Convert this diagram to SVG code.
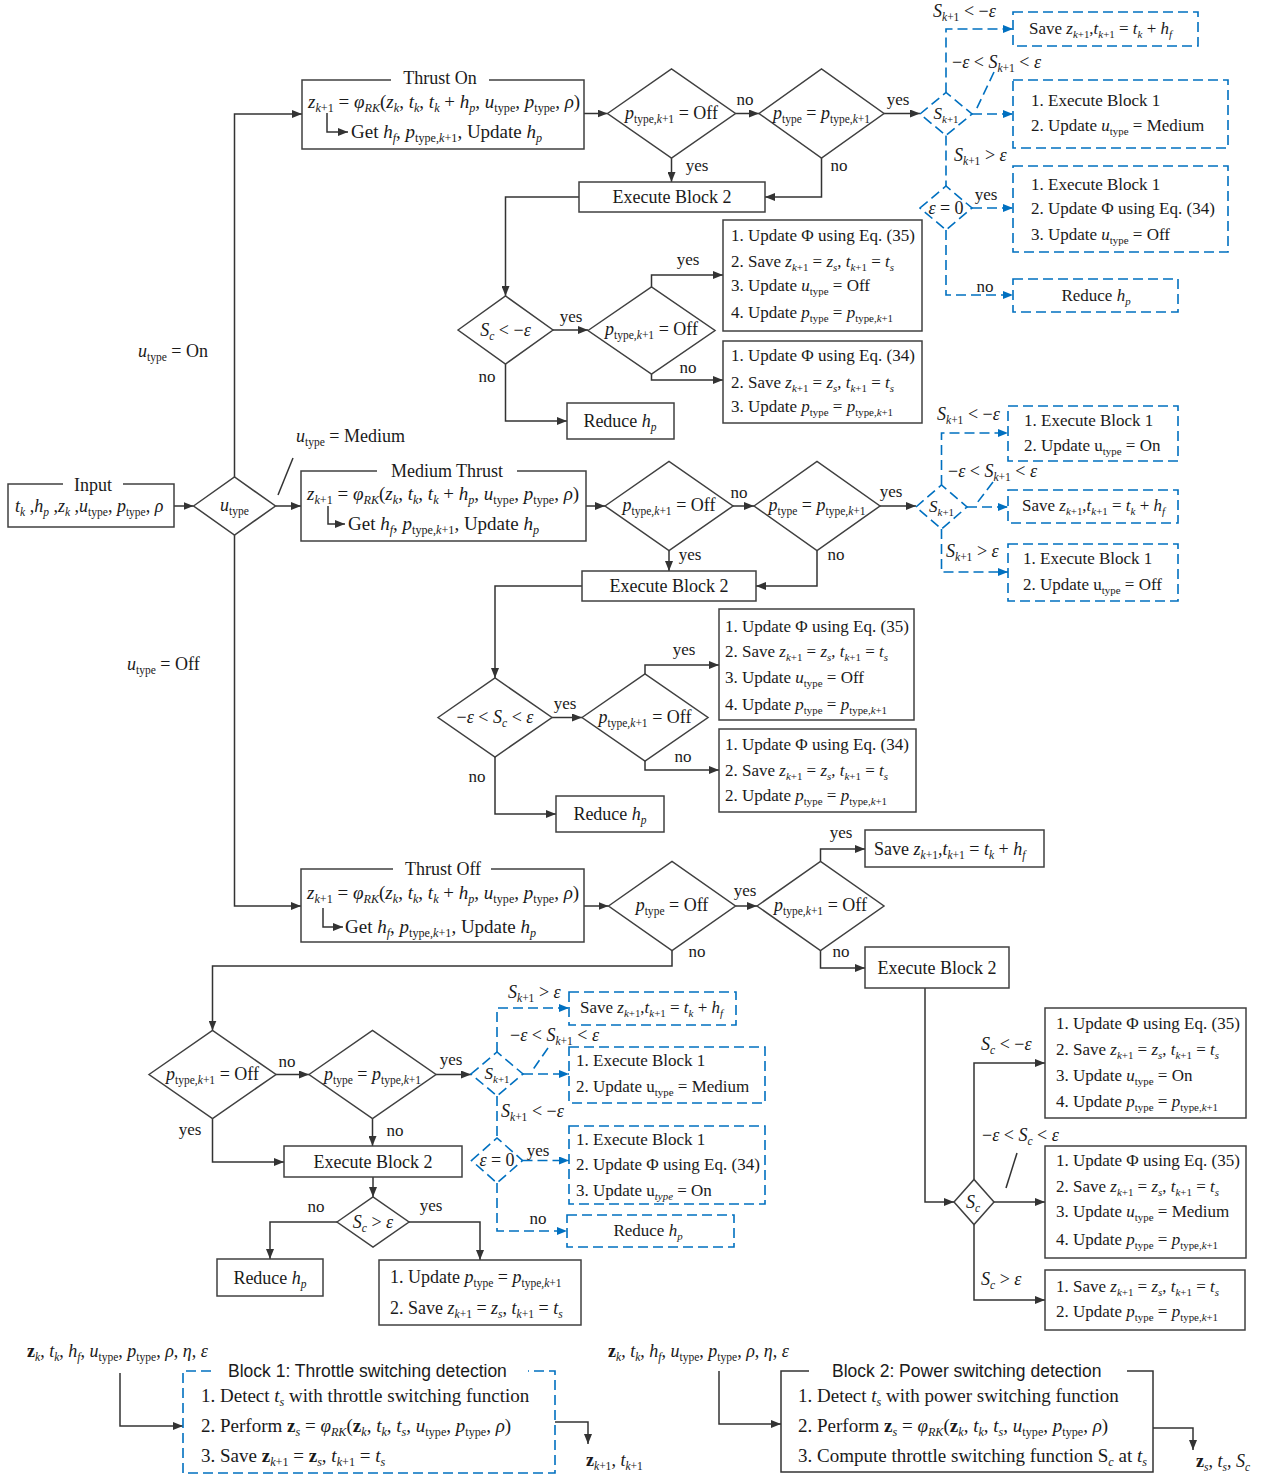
<svg xmlns="http://www.w3.org/2000/svg" width="1266" height="1476" viewBox="0 0 1266 1476">
<defs>
<marker id="ah" viewBox="0 0 10 8" refX="10" refY="4" markerWidth="10" markerHeight="8" markerUnits="userSpaceOnUse" orient="auto"><path d="M0,0 L10,4 L0,8 z" fill="#333"/></marker>
<marker id="ab" viewBox="0 0 10 8" refX="10" refY="4" markerWidth="10" markerHeight="8" markerUnits="userSpaceOnUse" orient="auto"><path d="M0,0 L10,4 L0,8 z" fill="#0070C0"/></marker>
</defs>
<style>
.n{fill:#fff;stroke:#404040;stroke-width:1.5}
.nd{fill:#fff;stroke:#0070C0;stroke-width:1.6;stroke-dasharray:10 5}
.c{fill:none;stroke:#333;stroke-width:1.5}
.ca{fill:none;stroke:#333;stroke-width:1.5;marker-end:url(#ah)}
.d{fill:none;stroke:#0070C0;stroke-width:1.6;stroke-dasharray:10 5}
.da{fill:none;stroke:#0070C0;stroke-width:1.6;stroke-dasharray:10 5;marker-end:url(#ab)}
text{font-family:"Liberation Serif","Times New Roman",serif;fill:#1a1a1a}
.t{font-size:18px}
.l{font-size:17px}
.e{font-size:19px}
.y{font-size:17px}
.k{font-size:19px}
.s{font-family:"Liberation Sans",Arial,sans-serif;font-size:17.5px}
.m{text-anchor:middle}
.i{font-style:italic}
.b{font-size:64%}
.bf{font-weight:bold}
</style>
<rect width="1266" height="1476" fill="#fff"/>

<g id="connectors">
<path class="ca" d="M174,506 H193.5"/>
<path class="ca" d="M234.5,477 V114 H302"/>
<path class="ca" d="M275.5,506 H301"/>
<path class="ca" d="M234.5,535 V906 H301"/>
<path class="c" d="M293,458 L278,495"/>
<path class="ca" d="M584,113.5 H607.5"/>
<path class="ca" d="M735.5,113.5 H759"/>
<path class="ca" d="M884,113.5 H920"/>
<path class="ca" d="M671.5,158 V182"/>
<path class="ca" d="M821.5,158 V197 H765"/>
<path class="ca" d="M579,197 H505.5 V296"/>
<path class="ca" d="M553,330 H588"/>
<path class="ca" d="M651.5,287 V275 H723"/>
<path class="ca" d="M651.5,374 V380 H723"/>
<path class="ca" d="M505.5,364 V421 H567"/>
<path class="ca" d="M586,506 H605"/>
<path class="ca" d="M733,506 H754"/>
<path class="ca" d="M880,506 H916"/>
<path class="ca" d="M669,550.5 V571"/>
<path class="ca" d="M817,550.5 V586 H756"/>
<path class="ca" d="M582,586 H495 V678"/>
<path class="ca" d="M552,717.5 H582"/>
<path class="ca" d="M645,674 V665 H719"/>
<path class="ca" d="M645,761 V770 H719"/>
<path class="ca" d="M495,757 V814 H556"/>
<path class="ca" d="M584,906 H608.5"/>
<path class="ca" d="M735.5,906 H757"/>
<path class="ca" d="M820.5,861.5 V849 H865"/>
<path class="ca" d="M820.5,950.5 V968 H865"/>
<path class="ca" d="M925,988 V1202 H954"/>
<path class="ca" d="M974,1179.5 V1063 H1045"/>
<path class="ca" d="M994,1202 H1045"/>
<path class="ca" d="M974,1224.5 V1300 H1045"/>
<path class="c" d="M1017,1153 L1006,1188"/>
<path class="ca" d="M672,950.5 V966 H212.5 V1030.5"/>
<path class="ca" d="M276,1074.5 H309"/>
<path class="ca" d="M436,1074.5 H471"/>
<path class="ca" d="M212.5,1118.5 V1162 H284"/>
<path class="ca" d="M372.5,1118.5 V1146"/>
<path class="ca" d="M373,1177 V1197"/>
<path class="ca" d="M337,1222 H270 V1259"/>
<path class="ca" d="M409,1222 H480 V1260"/>
<path class="ca" d="M120,1373 V1426 H183"/>
<path class="ca" d="M555,1422 H588 V1444"/>
<path class="ca" d="M719,1371 V1424 H781"/>
<path class="ca" d="M1153,1428 H1193 V1450"/>
<path class="da" d="M946,92.5 V29 H1013"/>
<path class="da" d="M972,114 H1013"/>
<path class="d" d="M994,72 L976,110"/>
<path class="d" d="M946,135.5 V186"/>
<path class="da" d="M972,208 H1013"/>
<path class="da" d="M946,230 V295 H1013"/>
<path class="da" d="M941.5,485 V433 H1008"/>
<path class="da" d="M967,507 H1008"/>
<path class="d" d="M993,482 L977,503"/>
<path class="da" d="M941.5,529 V572 H1008"/>
<path class="da" d="M497,1052 V1008 H569"/>
<path class="da" d="M523,1074 H569"/>
<path class="d" d="M548,1048 L532,1071"/>
<path class="d" d="M497,1096 V1138"/>
<path class="da" d="M522.5,1160.5 H569"/>
<path class="da" d="M497,1183 V1231 H567"/>
</g>

<g id="input">
<path class="n" d="M63,484 H8 V527 H174 V484 H123"/>
<text class="t m" x="93" y="491">Input</text>
<text class="t" x="15" y="512"><tspan class="i">t</tspan><tspan class="b i" dy="4">k</tspan><tspan dy="-4"> ,</tspan><tspan class="i">h</tspan><tspan class="b i" dy="4">p</tspan><tspan dy="-4"> ,</tspan><tspan class="i">z</tspan><tspan class="b i" dy="4">k</tspan><tspan dy="-4"> ,</tspan><tspan class="i">u</tspan><tspan class="b" dy="4">type</tspan><tspan dy="-4">, </tspan><tspan class="i">p</tspan><tspan class="b" dy="4">type</tspan><tspan dy="-4">, </tspan><tspan class="i">ρ</tspan></text>
</g>

<g id="utype">
<polygon class="n" points="193.5,506 234.5,477 275.5,506 234.5,535"/>
<text class="t m" x="234.5" y="511"><tspan class="i">u</tspan><tspan class="b" dy="4">type</tspan></text>
</g>
<g id="labels-utype">
<text class="t" x="138" y="357"><tspan class="i">u</tspan><tspan class="b" dy="4">type</tspan><tspan dy="-4"> = On</tspan></text>
<text class="t" x="296" y="442"><tspan class="i">u</tspan><tspan class="b" dy="4">type</tspan><tspan dy="-4"> = Medium</tspan></text>
<text class="t" x="127" y="670"><tspan class="i">u</tspan><tspan class="b" dy="4">type</tspan><tspan dy="-4"> = Off</tspan></text>
</g>

<!-- Thrust On -->
<g id="thrust-on">
<path class="n" d="M391,80 H302 V149 H584 V80 H489"/>
<path class="ca" d="M327,113 V132 H348"/>
<text class="t m" x="440" y="84">Thrust On</text>
<text class="e" x="308" y="108"><tspan class="i">z</tspan><tspan class="b" dy="4"><tspan class="i">k</tspan>+1</tspan><tspan dy="-4"> = </tspan><tspan class="i">φ</tspan><tspan class="b i" dy="4">RK</tspan><tspan dy="-4">(</tspan><tspan class="i">z</tspan><tspan class="b i" dy="4">k</tspan><tspan dy="-4">, </tspan><tspan class="i">t</tspan><tspan class="b i" dy="4">k</tspan><tspan dy="-4">, </tspan><tspan class="i">t</tspan><tspan class="b i" dy="4">k</tspan><tspan dy="-4"> + </tspan><tspan class="i">h</tspan><tspan class="b i" dy="4">p</tspan><tspan dy="-4">, </tspan><tspan class="i">u</tspan><tspan class="b" dy="4">type</tspan><tspan dy="-4">, </tspan><tspan class="i">p</tspan><tspan class="b" dy="4">type</tspan><tspan dy="-4">, </tspan><tspan class="i">ρ</tspan>)</text>
<text class="e" x="351" y="138">Get <tspan class="i">h</tspan><tspan class="b i" dy="4">f</tspan><tspan dy="-4">, </tspan><tspan class="i">p</tspan><tspan class="b" dy="4">type,<tspan class="i">k</tspan>+1</tspan><tspan dy="-4">, Update </tspan><tspan class="i">h</tspan><tspan class="b i" dy="4">p</tspan></text>
</g>
<g id="on-d1">
<polygon class="n" points="607.5,113.5 671.5,69 735.5,113.5 671.5,158"/>
<text class="t m" x="671.5" y="119"><tspan class="i">p</tspan><tspan class="b" dy="4">type,<tspan class="i">k</tspan>+1</tspan><tspan dy="-4"> = Off</tspan></text>
</g>
<g id="on-d2">
<polygon class="n" points="759,113.5 821.5,69 884,113.5 821.5,158"/>
<text class="t m" x="821.5" y="119"><tspan class="i">p</tspan><tspan class="b" dy="4">type</tspan><tspan dy="-4"> = </tspan><tspan class="i">p</tspan><tspan class="b" dy="4">type,<tspan class="i">k</tspan>+1</tspan></text>
</g>
<g id="on-labels">
<text class="y m" x="745" y="105">no</text>
<text class="y m" x="898" y="105">yes</text>
<text class="y m" x="697" y="171">yes</text>
<text class="y m" x="839" y="171">no</text>
<text class="y m" x="571" y="322">yes</text>
<text class="y m" x="688" y="265">yes</text>
<text class="y m" x="688" y="373">no</text>
<text class="y m" x="487" y="382">no</text>
</g>
<g id="on-eb2">
<rect class="n" x="579" y="182" width="186" height="30"/>
<text class="t m" x="672" y="203">Execute Block 2</text>
</g>
<g id="on-sc">
<polygon class="n" points="458,330 505.5,296 553,330 505.5,364"/>
<text class="t m" x="505.5" y="336"><tspan class="i">S</tspan><tspan class="b i" dy="4">c</tspan><tspan dy="-4"> &lt; −</tspan><tspan class="i">ε</tspan></text>
</g>
<g id="on-d3">
<polygon class="n" points="588,330.5 651.5,287 715,330.5 651.5,374"/>
<text class="t m" x="651.5" y="335"><tspan class="i">p</tspan><tspan class="b" dy="4">type,<tspan class="i">k</tspan>+1</tspan><tspan dy="-4"> = Off</tspan></text>
</g>
<g id="on-a1">
<rect class="n" x="723" y="220" width="199" height="111"/>
<text class="l" x="731" y="241">1. Update Φ using Eq. (35)</text>
<text class="l" x="731" y="267">2. Save <tspan class="i">z</tspan><tspan class="b" dy="4"><tspan class="i">k</tspan>+1</tspan><tspan dy="-4"> = </tspan><tspan class="i">z</tspan><tspan class="b i" dy="4">s</tspan><tspan dy="-4">, </tspan><tspan class="i">t</tspan><tspan class="b" dy="4"><tspan class="i">k</tspan>+1</tspan><tspan dy="-4"> = </tspan><tspan class="i">t</tspan><tspan class="b i" dy="4">s</tspan></text>
<text class="l" x="731" y="291">3. Update <tspan class="i">u</tspan><tspan class="b" dy="4">type</tspan><tspan dy="-4"> = Off</tspan></text>
<text class="l" x="731" y="318">4. Update <tspan class="i">p</tspan><tspan class="b" dy="4">type</tspan><tspan dy="-4"> = </tspan><tspan class="i">p</tspan><tspan class="b" dy="4">type,<tspan class="i">k</tspan>+1</tspan></text>
</g>
<g id="on-a2">
<rect class="n" x="723" y="341" width="199" height="82"/>
<text class="l" x="731" y="361">1. Update Φ using Eq. (34)</text>
<text class="l" x="731" y="388">2. Save <tspan class="i">z</tspan><tspan class="b" dy="4"><tspan class="i">k</tspan>+1</tspan><tspan dy="-4"> = </tspan><tspan class="i">z</tspan><tspan class="b i" dy="4">s</tspan><tspan dy="-4">, </tspan><tspan class="i">t</tspan><tspan class="b" dy="4"><tspan class="i">k</tspan>+1</tspan><tspan dy="-4"> = </tspan><tspan class="i">t</tspan><tspan class="b i" dy="4">s</tspan></text>
<text class="l" x="731" y="412">3. Update <tspan class="i">p</tspan><tspan class="b" dy="4">type</tspan><tspan dy="-4"> = </tspan><tspan class="i">p</tspan><tspan class="b" dy="4">type,<tspan class="i">k</tspan>+1</tspan></text>
</g>
<g id="on-reduce">
<rect class="n" x="567" y="403" width="107" height="36"/>
<text class="t m" x="620" y="427">Reduce <tspan class="i">h</tspan><tspan class="b i" dy="4">p</tspan></text>
</g>

<!-- blue top -->
<g id="on-s">
<polygon class="nd" points="920,114 946,92.5 972,114 946,135.5"/>
<text class="l m" x="946" y="119"><tspan class="i">S</tspan><tspan class="b" dy="4"><tspan class="i">k</tspan>+1</tspan></text>
</g>
<g id="on-s-labels">
<text class="t" x="933" y="17"><tspan class="i">S</tspan><tspan class="b" dy="4"><tspan class="i">k</tspan>+1</tspan><tspan dy="-4"> &lt; −</tspan><tspan class="i">ε</tspan></text>
<text class="t" x="952" y="68">−<tspan class="i">ε</tspan> &lt; <tspan class="i">S</tspan><tspan class="b" dy="4"><tspan class="i">k</tspan>+1</tspan><tspan dy="-4"> &lt; </tspan><tspan class="i">ε</tspan></text>
<text class="t" x="954" y="161"><tspan class="i">S</tspan><tspan class="b" dy="4"><tspan class="i">k</tspan>+1</tspan><tspan dy="-4"> &gt; </tspan><tspan class="i">ε</tspan></text>
<text class="y m" x="986" y="200">yes</text>
<text class="y m" x="985" y="292">no</text>
</g>
<g id="on-save">
<rect class="nd" x="1013" y="12" width="185" height="34"/>
<text class="l" x="1029" y="34">Save <tspan class="i">z</tspan><tspan class="b" dy="4"><tspan class="i">k</tspan>+1</tspan><tspan dy="-4">,</tspan><tspan class="i">t</tspan><tspan class="b" dy="4"><tspan class="i">k</tspan>+1</tspan><tspan dy="-4"> = </tspan><tspan class="i">t</tspan><tspan class="b i" dy="4">k</tspan><tspan dy="-4"> + </tspan><tspan class="i">h</tspan><tspan class="b i" dy="4">f</tspan></text>
</g>
<g id="on-med">
<rect class="nd" x="1013" y="80" width="215" height="68"/>
<text class="l" x="1031" y="106">1. Execute Block 1</text>
<text class="l" x="1031" y="131">2. Update <tspan class="i">u</tspan><tspan class="b" dy="4">type</tspan><tspan dy="-4"> = Medium</tspan></text>
</g>
<g id="on-eps">
<polygon class="nd" points="920,208 946,186 972,208 946,230"/>
<text class="t m" x="946" y="214"><tspan class="i">ε</tspan> = 0</text>
</g>
<g id="on-phi">
<rect class="nd" x="1013" y="166" width="215" height="86"/>
<text class="l" x="1031" y="190">1. Execute Block 1</text>
<text class="l" x="1031" y="214">2. Update Φ using Eq. (34)</text>
<text class="l" x="1031" y="240">3. Update <tspan class="i">u</tspan><tspan class="b" dy="4">type</tspan><tspan dy="-4"> = Off</tspan></text>
</g>
<g id="on-red2">
<rect class="nd" x="1013" y="279" width="165" height="33"/>
<text class="l m" x="1096" y="301">Reduce <tspan class="i">h</tspan><tspan class="b i" dy="4">p</tspan></text>
</g>

<!-- Medium -->
<g id="medium">
<path class="n" d="M377,471 H301 V541 H586 V471 H517"/>
<path class="ca" d="M328,506 V524 H345"/>
<text class="t m" x="447" y="477">Medium Thrust</text>
<text class="e" x="307" y="500"><tspan class="i">z</tspan><tspan class="b" dy="4"><tspan class="i">k</tspan>+1</tspan><tspan dy="-4"> = </tspan><tspan class="i">φ</tspan><tspan class="b i" dy="4">RK</tspan><tspan dy="-4">(</tspan><tspan class="i">z</tspan><tspan class="b i" dy="4">k</tspan><tspan dy="-4">, </tspan><tspan class="i">t</tspan><tspan class="b i" dy="4">k</tspan><tspan dy="-4">, </tspan><tspan class="i">t</tspan><tspan class="b i" dy="4">k</tspan><tspan dy="-4"> + </tspan><tspan class="i">h</tspan><tspan class="b i" dy="4">p</tspan><tspan dy="-4">, </tspan><tspan class="i">u</tspan><tspan class="b" dy="4">type</tspan><tspan dy="-4">, </tspan><tspan class="i">p</tspan><tspan class="b" dy="4">type</tspan><tspan dy="-4">, </tspan><tspan class="i">ρ</tspan>)</text>
<text class="e" x="348" y="530">Get <tspan class="i">h</tspan><tspan class="b i" dy="4">f</tspan><tspan dy="-4">, </tspan><tspan class="i">p</tspan><tspan class="b" dy="4">type,<tspan class="i">k</tspan>+1</tspan><tspan dy="-4">, Update </tspan><tspan class="i">h</tspan><tspan class="b i" dy="4">p</tspan></text>
</g>
<g id="med-d1">
<polygon class="n" points="605,506 669,461.5 733,506 669,550.5"/>
<text class="t m" x="669" y="511"><tspan class="i">p</tspan><tspan class="b" dy="4">type,<tspan class="i">k</tspan>+1</tspan><tspan dy="-4"> = Off</tspan></text>
</g>
<g id="med-d2">
<polygon class="n" points="754,506 817,461.5 880,506 817,550.5"/>
<text class="t m" x="817" y="511"><tspan class="i">p</tspan><tspan class="b" dy="4">type</tspan><tspan dy="-4"> = </tspan><tspan class="i">p</tspan><tspan class="b" dy="4">type,<tspan class="i">k</tspan>+1</tspan></text>
</g>
<g id="med-labels">
<text class="y m" x="739" y="498">no</text>
<text class="y m" x="891" y="497">yes</text>
<text class="y m" x="690" y="560">yes</text>
<text class="y m" x="836" y="560">no</text>
<text class="y m" x="565" y="709">yes</text>
<text class="y m" x="684" y="655">yes</text>
<text class="y m" x="683" y="762">no</text>
<text class="y m" x="477" y="782">no</text>
</g>
<g id="med-eb2">
<rect class="n" x="582" y="571" width="174" height="30"/>
<text class="t m" x="669" y="592">Execute Block 2</text>
</g>
<g id="med-sc">
<polygon class="n" points="438,717.5 495,678 552,717.5 495,757"/>
<text class="t m" x="495" y="723">−<tspan class="i">ε</tspan> &lt; <tspan class="i">S</tspan><tspan class="b i" dy="4">c</tspan><tspan dy="-4"> &lt; </tspan><tspan class="i">ε</tspan></text>
</g>
<g id="med-d3">
<polygon class="n" points="582,717.5 645,674 708,717.5 645,761"/>
<text class="t m" x="645" y="723"><tspan class="i">p</tspan><tspan class="b" dy="4">type,<tspan class="i">k</tspan>+1</tspan><tspan dy="-4"> = Off</tspan></text>
</g>
<g id="med-b1">
<rect class="n" x="719" y="609" width="195" height="111"/>
<text class="l" x="725" y="632">1. Update Φ using Eq. (35)</text>
<text class="l" x="725" y="657">2. Save <tspan class="i">z</tspan><tspan class="b" dy="4"><tspan class="i">k</tspan>+1</tspan><tspan dy="-4"> = </tspan><tspan class="i">z</tspan><tspan class="b i" dy="4">s</tspan><tspan dy="-4">, </tspan><tspan class="i">t</tspan><tspan class="b" dy="4"><tspan class="i">k</tspan>+1</tspan><tspan dy="-4"> = </tspan><tspan class="i">t</tspan><tspan class="b i" dy="4">s</tspan></text>
<text class="l" x="725" y="683">3. Update <tspan class="i">u</tspan><tspan class="b" dy="4">type</tspan><tspan dy="-4"> = Off</tspan></text>
<text class="l" x="725" y="710">4. Update <tspan class="i">p</tspan><tspan class="b" dy="4">type</tspan><tspan dy="-4"> = </tspan><tspan class="i">p</tspan><tspan class="b" dy="4">type,<tspan class="i">k</tspan>+1</tspan></text>
</g>
<g id="med-b2">
<rect class="n" x="719" y="729" width="197" height="83"/>
<text class="l" x="725" y="750">1. Update Φ using Eq. (34)</text>
<text class="l" x="725" y="776">2. Save <tspan class="i">z</tspan><tspan class="b" dy="4"><tspan class="i">k</tspan>+1</tspan><tspan dy="-4"> = </tspan><tspan class="i">z</tspan><tspan class="b i" dy="4">s</tspan><tspan dy="-4">, </tspan><tspan class="i">t</tspan><tspan class="b" dy="4"><tspan class="i">k</tspan>+1</tspan><tspan dy="-4"> = </tspan><tspan class="i">t</tspan><tspan class="b i" dy="4">s</tspan></text>
<text class="l" x="725" y="801">2. Update <tspan class="i">p</tspan><tspan class="b" dy="4">type</tspan><tspan dy="-4"> = </tspan><tspan class="i">p</tspan><tspan class="b" dy="4">type,<tspan class="i">k</tspan>+1</tspan></text>
</g>
<g id="med-reduce">
<rect class="n" x="556" y="796" width="108" height="36"/>
<text class="t m" x="610" y="820">Reduce <tspan class="i">h</tspan><tspan class="b i" dy="4">p</tspan></text>
</g>

<!-- blue mid -->
<g id="med-s">
<polygon class="nd" points="916,507 941.5,485 967,507 941.5,529"/>
<text class="l m" x="941.5" y="512"><tspan class="i">S</tspan><tspan class="b" dy="4"><tspan class="i">k</tspan>+1</tspan></text>
</g>
<g id="med-s-labels">
<text class="t" x="937" y="420"><tspan class="i">S</tspan><tspan class="b" dy="4"><tspan class="i">k</tspan>+1</tspan><tspan dy="-4"> &lt; −</tspan><tspan class="i">ε</tspan></text>
<text class="t" x="948" y="477">−<tspan class="i">ε</tspan> &lt; <tspan class="i">S</tspan><tspan class="b" dy="4"><tspan class="i">k</tspan>+1</tspan><tspan dy="-4"> &lt; </tspan><tspan class="i">ε</tspan></text>
<text class="t" x="946" y="557"><tspan class="i">S</tspan><tspan class="b" dy="4"><tspan class="i">k</tspan>+1</tspan><tspan dy="-4"> &gt; </tspan><tspan class="i">ε</tspan></text>
</g>
<g id="med-c1">
<rect class="nd" x="1008" y="406" width="170" height="55"/>
<text class="l" x="1024" y="426">1. Execute Block 1</text>
<text class="l" x="1024" y="451">2. Update u<tspan class="b" dy="4">type</tspan><tspan dy="-4"> = On</tspan></text>
</g>
<g id="med-c2">
<rect class="nd" x="1008" y="490" width="170" height="33"/>
<text class="l" x="1022" y="511">Save <tspan class="i">z</tspan><tspan class="b" dy="4"><tspan class="i">k</tspan>+1</tspan><tspan dy="-4">,</tspan><tspan class="i">t</tspan><tspan class="b" dy="4"><tspan class="i">k</tspan>+1</tspan><tspan dy="-4"> = </tspan><tspan class="i">t</tspan><tspan class="b i" dy="4">k</tspan><tspan dy="-4"> + </tspan><tspan class="i">h</tspan><tspan class="b i" dy="4">f</tspan></text>
</g>
<g id="med-c3">
<rect class="nd" x="1008" y="544" width="170" height="57"/>
<text class="l" x="1023" y="564">1. Execute Block 1</text>
<text class="l" x="1023" y="590">2. Update u<tspan class="b" dy="4">type</tspan><tspan dy="-4"> = Off</tspan></text>
</g>

<!-- Thrust Off -->
<g id="thrust-off">
<path class="n" d="M393,869 H301 V942 H584 V869 H491"/>
<path class="ca" d="M323,908 V927 H343"/>
<text class="t m" x="443" y="875">Thrust Off</text>
<text class="e" x="307" y="899"><tspan class="i">z</tspan><tspan class="b" dy="4"><tspan class="i">k</tspan>+1</tspan><tspan dy="-4"> = </tspan><tspan class="i">φ</tspan><tspan class="b i" dy="4">RK</tspan><tspan dy="-4">(</tspan><tspan class="i">z</tspan><tspan class="b i" dy="4">k</tspan><tspan dy="-4">, </tspan><tspan class="i">t</tspan><tspan class="b i" dy="4">k</tspan><tspan dy="-4">, </tspan><tspan class="i">t</tspan><tspan class="b i" dy="4">k</tspan><tspan dy="-4"> + </tspan><tspan class="i">h</tspan><tspan class="b i" dy="4">p</tspan><tspan dy="-4">, </tspan><tspan class="i">u</tspan><tspan class="b" dy="4">type</tspan><tspan dy="-4">, </tspan><tspan class="i">p</tspan><tspan class="b" dy="4">type</tspan><tspan dy="-4">, </tspan><tspan class="i">ρ</tspan>)</text>
<text class="e" x="345" y="933">Get <tspan class="i">h</tspan><tspan class="b i" dy="4">f</tspan><tspan dy="-4">, </tspan><tspan class="i">p</tspan><tspan class="b" dy="4">type,<tspan class="i">k</tspan>+1</tspan><tspan dy="-4">, Update </tspan><tspan class="i">h</tspan><tspan class="b i" dy="4">p</tspan></text>
</g>
<g id="off-d1">
<polygon class="n" points="608.5,906 672,861.5 735.5,906 672,950.5"/>
<text class="t m" x="672" y="911"><tspan class="i">p</tspan><tspan class="b" dy="4">type</tspan><tspan dy="-4"> = Off</tspan></text>
</g>
<g id="off-d2">
<polygon class="n" points="757,906 820.5,861.5 884,906 820.5,950.5"/>
<text class="t m" x="820.5" y="911"><tspan class="i">p</tspan><tspan class="b" dy="4">type,<tspan class="i">k</tspan>+1</tspan><tspan dy="-4"> = Off</tspan></text>
</g>
<g id="off-labels">
<text class="y m" x="745" y="896">yes</text>
<text class="y m" x="841" y="838">yes</text>
<text class="y m" x="841" y="957">no</text>
<text class="y m" x="697" y="957">no</text>
<text class="y m" x="287" y="1067">no</text>
<text class="y m" x="451" y="1065">yes</text>
<text class="y m" x="190" y="1135">yes</text>
<text class="y m" x="395" y="1136">no</text>
<text class="y m" x="316" y="1212">no</text>
<text class="y m" x="431" y="1211">yes</text>
</g>
<g id="off-save">
<rect class="n" x="865" y="830" width="179" height="37"/>
<text class="t" x="874" y="855">Save <tspan class="i">z</tspan><tspan class="b" dy="4"><tspan class="i">k</tspan>+1</tspan><tspan dy="-4">,</tspan><tspan class="i">t</tspan><tspan class="b" dy="4"><tspan class="i">k</tspan>+1</tspan><tspan dy="-4"> = </tspan><tspan class="i">t</tspan><tspan class="b i" dy="4">k</tspan><tspan dy="-4"> + </tspan><tspan class="i">h</tspan><tspan class="b i" dy="4">f</tspan></text>
</g>
<g id="off-eb2r">
<rect class="n" x="865" y="947" width="144" height="41"/>
<text class="t m" x="937" y="974">Execute Block 2</text>
</g>
<g id="off-sc">
<polygon class="n" points="954,1202 974,1179.5 994,1202 974,1224.5"/>
<text class="t m" x="973" y="1208"><tspan class="i">S</tspan><tspan class="b i" dy="4">c</tspan></text>
</g>
<g id="off-sc-labels">
<text class="t" x="981" y="1050"><tspan class="i">S</tspan><tspan class="b i" dy="4">c</tspan><tspan dy="-4"> &lt; −</tspan><tspan class="i">ε</tspan></text>
<text class="t" x="982" y="1141">−<tspan class="i">ε</tspan> &lt; <tspan class="i">S</tspan><tspan class="b i" dy="4">c</tspan><tspan dy="-4"> &lt; </tspan><tspan class="i">ε</tspan></text>
<text class="t" x="981" y="1285"><tspan class="i">S</tspan><tspan class="b i" dy="4">c</tspan><tspan dy="-4"> &gt; </tspan><tspan class="i">ε</tspan></text>
</g>
<g id="off-d1box">
<rect class="n" x="1045" y="1008" width="201" height="110"/>
<text class="l" x="1056" y="1029">1. Update Φ using Eq. (35)</text>
<text class="l" x="1056" y="1055">2. Save <tspan class="i">z</tspan><tspan class="b" dy="4"><tspan class="i">k</tspan>+1</tspan><tspan dy="-4"> = </tspan><tspan class="i">z</tspan><tspan class="b i" dy="4">s</tspan><tspan dy="-4">, </tspan><tspan class="i">t</tspan><tspan class="b" dy="4"><tspan class="i">k</tspan>+1</tspan><tspan dy="-4"> = </tspan><tspan class="i">t</tspan><tspan class="b i" dy="4">s</tspan></text>
<text class="l" x="1056" y="1081">3. Update <tspan class="i">u</tspan><tspan class="b" dy="4">type</tspan><tspan dy="-4"> = On</tspan></text>
<text class="l" x="1056" y="1107">4. Update <tspan class="i">p</tspan><tspan class="b" dy="4">type</tspan><tspan dy="-4"> = </tspan><tspan class="i">p</tspan><tspan class="b" dy="4">type,<tspan class="i">k</tspan>+1</tspan></text>
</g>
<g id="off-d2box">
<rect class="n" x="1045" y="1146" width="201" height="112"/>
<text class="l" x="1056" y="1166">1. Update Φ using Eq. (35)</text>
<text class="l" x="1056" y="1192">2. Save <tspan class="i">z</tspan><tspan class="b" dy="4"><tspan class="i">k</tspan>+1</tspan><tspan dy="-4"> = </tspan><tspan class="i">z</tspan><tspan class="b i" dy="4">s</tspan><tspan dy="-4">, </tspan><tspan class="i">t</tspan><tspan class="b" dy="4"><tspan class="i">k</tspan>+1</tspan><tspan dy="-4"> = </tspan><tspan class="i">t</tspan><tspan class="b i" dy="4">s</tspan></text>
<text class="l" x="1056" y="1217">3. Update <tspan class="i">u</tspan><tspan class="b" dy="4">type</tspan><tspan dy="-4"> = Medium</tspan></text>
<text class="l" x="1056" y="1245">4. Update <tspan class="i">p</tspan><tspan class="b" dy="4">type</tspan><tspan dy="-4"> = </tspan><tspan class="i">p</tspan><tspan class="b" dy="4">type,<tspan class="i">k</tspan>+1</tspan></text>
</g>
<g id="off-d3box">
<rect class="n" x="1045" y="1270" width="200" height="60"/>
<text class="l" x="1056" y="1292">1. Save <tspan class="i">z</tspan><tspan class="b" dy="4"><tspan class="i">k</tspan>+1</tspan><tspan dy="-4"> = </tspan><tspan class="i">z</tspan><tspan class="b i" dy="4">s</tspan><tspan dy="-4">, </tspan><tspan class="i">t</tspan><tspan class="b" dy="4"><tspan class="i">k</tspan>+1</tspan><tspan dy="-4"> = </tspan><tspan class="i">t</tspan><tspan class="b i" dy="4">s</tspan></text>
<text class="l" x="1056" y="1317">2. Update <tspan class="i">p</tspan><tspan class="b" dy="4">type</tspan><tspan dy="-4"> = </tspan><tspan class="i">p</tspan><tspan class="b" dy="4">type,<tspan class="i">k</tspan>+1</tspan></text>
</g>
<g id="off-d3">
<polygon class="n" points="149,1074.5 212.5,1030.5 276,1074.5 212.5,1118.5"/>
<text class="t m" x="212.5" y="1080"><tspan class="i">p</tspan><tspan class="b" dy="4">type,<tspan class="i">k</tspan>+1</tspan><tspan dy="-4"> = Off</tspan></text>
</g>
<g id="off-d4">
<polygon class="n" points="309,1074.5 372.5,1030.5 436,1074.5 372.5,1118.5"/>
<text class="t m" x="372.5" y="1080"><tspan class="i">p</tspan><tspan class="b" dy="4">type</tspan><tspan dy="-4"> = </tspan><tspan class="i">p</tspan><tspan class="b" dy="4">type,<tspan class="i">k</tspan>+1</tspan></text>
</g>
<g id="off-eb2b">
<rect class="n" x="284" y="1146" width="178" height="31"/>
<text class="t m" x="373" y="1168">Execute Block 2</text>
</g>
<g id="off-scg">
<polygon class="n" points="337,1222 373,1197 409,1222 373,1247"/>
<text class="t m" x="373" y="1228"><tspan class="i">S</tspan><tspan class="b i" dy="4">c</tspan><tspan dy="-4"> &gt; </tspan><tspan class="i">ε</tspan></text>
</g>
<g id="off-reduce">
<rect class="n" x="217" y="1259" width="106" height="37"/>
<text class="t m" x="270" y="1284">Reduce <tspan class="i">h</tspan><tspan class="b i" dy="4">p</tspan></text>
</g>
<g id="off-pbox">
<rect class="n" x="379" y="1260" width="202" height="65"/>
<text class="t" x="390" y="1283">1. Update <tspan class="i">p</tspan><tspan class="b" dy="4">type</tspan><tspan dy="-4"> = </tspan><tspan class="i">p</tspan><tspan class="b" dy="4">type,<tspan class="i">k</tspan>+1</tspan></text>
<text class="t" x="390" y="1314">2. Save <tspan class="i">z</tspan><tspan class="b" dy="4"><tspan class="i">k</tspan>+1</tspan><tspan dy="-4"> = </tspan><tspan class="i">z</tspan><tspan class="b i" dy="4">s</tspan><tspan dy="-4">, </tspan><tspan class="i">t</tspan><tspan class="b" dy="4"><tspan class="i">k</tspan>+1</tspan><tspan dy="-4"> = </tspan><tspan class="i">t</tspan><tspan class="b i" dy="4">s</tspan></text>
</g>

<!-- blue bottom -->
<g id="off-s">
<polygon class="nd" points="471,1074 497,1052 523,1074 497,1096"/>
<text class="l m" x="497" y="1079"><tspan class="i">S</tspan><tspan class="b" dy="4"><tspan class="i">k</tspan>+1</tspan></text>
</g>
<g id="off-s-labels">
<text class="t" x="508" y="998"><tspan class="i">S</tspan><tspan class="b" dy="4"><tspan class="i">k</tspan>+1</tspan><tspan dy="-4"> &gt; </tspan><tspan class="i">ε</tspan></text>
<text class="t" x="510" y="1041">−<tspan class="i">ε</tspan> &lt; <tspan class="i">S</tspan><tspan class="b" dy="4"><tspan class="i">k</tspan>+1</tspan><tspan dy="-4"> &lt; </tspan><tspan class="i">ε</tspan></text>
<text class="t" x="501" y="1117"><tspan class="i">S</tspan><tspan class="b" dy="4"><tspan class="i">k</tspan>+1</tspan><tspan dy="-4"> &lt; −</tspan><tspan class="i">ε</tspan></text>
<text class="y m" x="538" y="1156">yes</text>
<text class="y m" x="538" y="1224">no</text>
</g>
<g id="off-e1">
<rect class="nd" x="569" y="992" width="167" height="33"/>
<text class="l" x="580" y="1013">Save <tspan class="i">z</tspan><tspan class="b" dy="4"><tspan class="i">k</tspan>+1</tspan><tspan dy="-4">,</tspan><tspan class="i">t</tspan><tspan class="b" dy="4"><tspan class="i">k</tspan>+1</tspan><tspan dy="-4"> = </tspan><tspan class="i">t</tspan><tspan class="b i" dy="4">k</tspan><tspan dy="-4"> + </tspan><tspan class="i">h</tspan><tspan class="b i" dy="4">f</tspan></text>
</g>
<g id="off-e2">
<rect class="nd" x="569" y="1047" width="196" height="56"/>
<text class="l" x="576" y="1066">1. Execute Block 1</text>
<text class="l" x="576" y="1092">2. Update u<tspan class="b" dy="4">type</tspan><tspan dy="-4"> = Medium</tspan></text>
</g>
<g id="off-eps">
<polygon class="nd" points="471.5,1160.5 497,1138 522.5,1160.5 497,1183"/>
<text class="t m" x="497" y="1166"><tspan class="i">ε</tspan> = 0</text>
</g>
<g id="off-e3">
<rect class="nd" x="569" y="1126" width="196" height="78"/>
<text class="l" x="576" y="1145">1. Execute Block 1</text>
<text class="l" x="576" y="1170">2. Update Φ using Eq. (34)</text>
<text class="l" x="576" y="1196">3. Update u<tspan class="b i" dy="4">type</tspan><tspan dy="-4"> = On</tspan></text>
</g>
<g id="off-e4">
<rect class="nd" x="567" y="1215" width="167" height="32"/>
<text class="l m" x="648" y="1236">Reduce <tspan class="i">h</tspan><tspan class="b i" dy="4">p</tspan></text>
</g>

<!-- Block 1 -->
<g id="block1">
<text class="t" x="27" y="1357"><tspan class="bf">z</tspan><tspan class="b i" dy="4">k</tspan><tspan dy="-4">, </tspan><tspan class="i">t</tspan><tspan class="b i" dy="4">k</tspan><tspan dy="-4">, </tspan><tspan class="i">h</tspan><tspan class="b i" dy="4">f</tspan><tspan dy="-4">, </tspan><tspan class="i">u</tspan><tspan class="b" dy="4">type</tspan><tspan dy="-4">, </tspan><tspan class="i">p</tspan><tspan class="b" dy="4">type</tspan><tspan dy="-4">, </tspan><tspan class="i">ρ</tspan>, <tspan class="i">η</tspan>, <tspan class="i">ε</tspan></text>
<path class="d" d="M211,1371 H183 V1473 H555 V1371 H528"/>
<text class="s" x="228" y="1377">Block 1: Throttle switching detection</text>
<text class="k" x="201" y="1402">1. Detect <tspan class="i">t</tspan><tspan class="b i" dy="4">s</tspan><tspan dy="-4">  with throttle switching function</tspan></text>
<text class="k" x="201" y="1432">2. Perform <tspan class="bf">z</tspan><tspan class="b i" dy="4">s</tspan><tspan dy="-4"> = </tspan><tspan class="i">φ</tspan><tspan class="b i" dy="4">RK</tspan><tspan dy="-4">(</tspan><tspan class="bf">z</tspan><tspan class="b i" dy="4">k</tspan><tspan dy="-4">, </tspan><tspan class="i">t</tspan><tspan class="b i" dy="4">k</tspan><tspan dy="-4">, </tspan><tspan class="i">t</tspan><tspan class="b i" dy="4">s</tspan><tspan dy="-4">, </tspan><tspan class="i">u</tspan><tspan class="b" dy="4">type</tspan><tspan dy="-4">, </tspan><tspan class="i">p</tspan><tspan class="b" dy="4">type</tspan><tspan dy="-4">, </tspan><tspan class="i">ρ</tspan>)</text>
<text class="k" x="201" y="1462">3. Save <tspan class="bf">z</tspan><tspan class="b" dy="4"><tspan class="i">k</tspan>+1</tspan><tspan dy="-4"> = </tspan><tspan class="bf">z</tspan><tspan class="b i" dy="4">s</tspan><tspan dy="-4">, </tspan><tspan class="i">t</tspan><tspan class="b" dy="4"><tspan class="i">k</tspan>+1</tspan><tspan dy="-4"> = </tspan><tspan class="i">t</tspan><tspan class="b i" dy="4">s</tspan></text>
<text class="t" x="586" y="1466"><tspan class="bf">z</tspan><tspan class="b" dy="4"><tspan class="i">k</tspan>+1</tspan><tspan dy="-4">, </tspan><tspan class="i">t</tspan><tspan class="b" dy="4"><tspan class="i">k</tspan>+1</tspan></text>
</g>

<!-- Block 2 -->
<g id="block2">
<text class="t" x="608" y="1357"><tspan class="bf">z</tspan><tspan class="b i" dy="4">k</tspan><tspan dy="-4">, </tspan><tspan class="i">t</tspan><tspan class="b i" dy="4">k</tspan><tspan dy="-4">, </tspan><tspan class="i">h</tspan><tspan class="b i" dy="4">f</tspan><tspan dy="-4">, </tspan><tspan class="i">u</tspan><tspan class="b" dy="4">type</tspan><tspan dy="-4">, </tspan><tspan class="i">p</tspan><tspan class="b" dy="4">type</tspan><tspan dy="-4">, </tspan><tspan class="i">ρ</tspan>, <tspan class="i">η</tspan>, <tspan class="i">ε</tspan></text>
<path class="c" d="M809,1371 H781 V1472 H1153 V1371 H1127"/>
<text class="s" x="832" y="1377">Block 2: Power switching detection</text>
<text class="k" x="798" y="1402">1. Detect <tspan class="i">t</tspan><tspan class="b i" dy="4">s</tspan><tspan dy="-4">  with power switching function</tspan></text>
<text class="k" x="798" y="1432">2. Perform <tspan class="bf">z</tspan><tspan class="b i" dy="4">s</tspan><tspan dy="-4"> = </tspan><tspan class="i">φ</tspan><tspan class="b i" dy="4">RK</tspan><tspan dy="-4">(</tspan><tspan class="bf">z</tspan><tspan class="b i" dy="4">k</tspan><tspan dy="-4">, </tspan><tspan class="i">t</tspan><tspan class="b i" dy="4">k</tspan><tspan dy="-4">, </tspan><tspan class="i">t</tspan><tspan class="b i" dy="4">s</tspan><tspan dy="-4">, </tspan><tspan class="i">u</tspan><tspan class="b" dy="4">type</tspan><tspan dy="-4">, </tspan><tspan class="i">p</tspan><tspan class="b" dy="4">type</tspan><tspan dy="-4">, </tspan><tspan class="i">ρ</tspan>)</text>
<text class="k" x="798" y="1462">3. Compute throttle switching function S<tspan class="b i" dy="4">c</tspan><tspan dy="-4">  at </tspan><tspan class="i">t</tspan><tspan class="b i" dy="4">s</tspan></text>
<text class="t" x="1196" y="1467"><tspan class="bf">z</tspan><tspan class="b i" dy="4">s</tspan><tspan dy="-4">, </tspan><tspan class="i">t</tspan><tspan class="b i" dy="4">s</tspan><tspan dy="-4">, </tspan><tspan class="i">S</tspan><tspan class="b i" dy="4">c</tspan></text>
</g>
</svg>
